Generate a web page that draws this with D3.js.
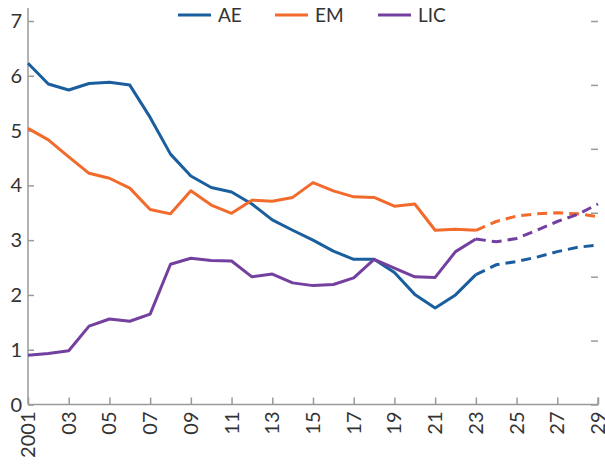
<!DOCTYPE html>
<html>
<head>
<meta charset="utf-8">
<script src="https://cdn.jsdelivr.net/npm/d3@7"></script>
<style>
  body { margin: 0; background: #fff; }
  text { font-family: Lato, "Noto Sans", sans-serif; fill: #333; }
</style>
</head>
<body>
<svg id="chart" width="605" height="464"></svg>
<script>
const years = d3.range(2001, 2030);
const lastActual = 2023;
const tickYears = d3.range(2001, 2030, 2);

const aeValues = [6.23, 5.85, 5.74, 5.86, 5.88, 5.83, 5.24, 4.57, 4.17, 3.96, 3.88, 3.66, 3.37,
  3.18, 3.00, 2.80, 2.65, 2.65, 2.41, 2.01, 1.76, 2.00, 2.37, 2.55, 2.61, 2.69, 2.79, 2.87, 2.91];
const emValues = [5.04, 4.83, 4.52, 4.22, 4.13, 3.95, 3.56, 3.48, 3.90, 3.64, 3.49, 3.73, 3.71,
  3.78, 4.05, 3.90, 3.79, 3.78, 3.62, 3.66, 3.18, 3.20, 3.18, 3.34, 3.44, 3.48, 3.50, 3.48, 3.43];
const licValues = [0.90, 0.93, 0.98, 1.43, 1.56, 1.52, 1.65, 2.56, 2.67, 2.63, 2.62, 2.33, 2.38,
  2.22, 2.17, 2.19, 2.31, 2.65, 2.49, 2.33, 2.32, 2.79, 3.02, 2.97, 3.03, 3.18, 3.34, 3.47, 3.66];

const seriesNames = ['AE', 'EM', 'LIC'];
const seriesColors = ['#1a5e9e', '#f26a2c', '#7340a0'];
const seriesValues = [aeValues, emValues, licValues];

const margin = {left: 28, right: 5, top: 21, bottom: 59};
const width = 605, height = 464;

const svg = d3.select('#chart');

const x = d3.scaleLinear().domain([2001, 2029]).range([margin.left, width - margin.right - 2]);
const y = d3.scaleLinear().domain([0, 7]).range([height - margin.bottom - 0.5, margin.top]);
const yRight = d3.scaleLinear().domain([0, 6]).range(y.range());

const axisColor = '#9a9a9a';

// left axis
let gLeft = svg.append('g').attr('transform', `translate(${margin.left},0)`)
  .call(d3.axisRight(y).ticks(7).tickSize(6).tickFormat(''));
gLeft.select('.domain').attr('d', `M0,8V${y(0)}`);
gLeft.selectAll('line,path').attr('stroke', axisColor).attr('stroke-width', 1.5);
svg.selectAll('.ylab').data(y.ticks(7)).enter().append('text')
  .attr('class', 'ylab')
  .attr('x', 22).attr('y', d => y(d) + 7)
  .attr('text-anchor', 'end')
  .style('font-size', '20px')
  .text(d => d);

// right axis, ticks only
let gRight = svg.append('g').attr('transform', `translate(${x(2029)},0)`)
  .call(d3.axisLeft(yRight).ticks(6).tickSize(7).tickFormat(''));
gRight.select('.domain').remove();
gRight.selectAll('line').attr('stroke', axisColor).attr('stroke-width', 1.5);

// bottom axis
let gBottom = svg.append('g').attr('transform', `translate(0,${y(0)})`)
  .call(d3.axisTop(x).tickValues(tickYears).tickSize(7).tickFormat(''));
gBottom.select('.domain').attr('d', `M${margin.left},0H${x(2029)}V-7`);
gBottom.selectAll('line,path').attr('stroke', axisColor).attr('stroke-width', 1.5);
svg.selectAll('.xlab').data(tickYears).enter().append('text')
  .attr('class', 'xlab')
  .attr('transform', d => `translate(${x(d) + 7},${y(0) + 7}) rotate(-90)`)
  .attr('text-anchor', 'end')
  .style('font-size', '20px')
  .text(d => d == 2001 ? '2001' : String(d).slice(2));

// lines
const line = d3.line().x(d => x(d.year)).y(d => y(d.v));
seriesValues.forEach((vals, i) => {
  const pts = years.map((yr, j) => ({year: yr, v: vals[j]}));
  svg.append('path')
    .datum(pts.filter(d => d.year <= lastActual))
    .attr('d', line)
    .attr('fill', 'none')
    .attr('stroke', seriesColors[i])
    .attr('stroke-width', 3)
    .attr('stroke-linejoin', 'round');
  svg.append('path')
    .datum(pts.filter(d => d.year >= lastActual))
    .attr('d', line)
    .attr('fill', 'none')
    .attr('stroke', seriesColors[i])
    .attr('stroke-width', 3)
    .attr('stroke-dasharray', '10,6');
});

// legend
const legendX = [178, 275, 378];
const legend = svg.selectAll('.leg').data(seriesNames).enter().append('g')
  .attr('class', 'leg')
  .attr('transform', (d, i) => `translate(${legendX[i]},15)`);
legend.append('line')
  .attr('x1', 0).attr('x2', 33)
  .attr('stroke', (d, i) => seriesColors[i])
  .attr('stroke-width', 3);
legend.append('text')
  .attr('x', 40).attr('y', 7)
  .style('font-size', '19px')
  .text(d => d);
</script>
</body>
</html>
